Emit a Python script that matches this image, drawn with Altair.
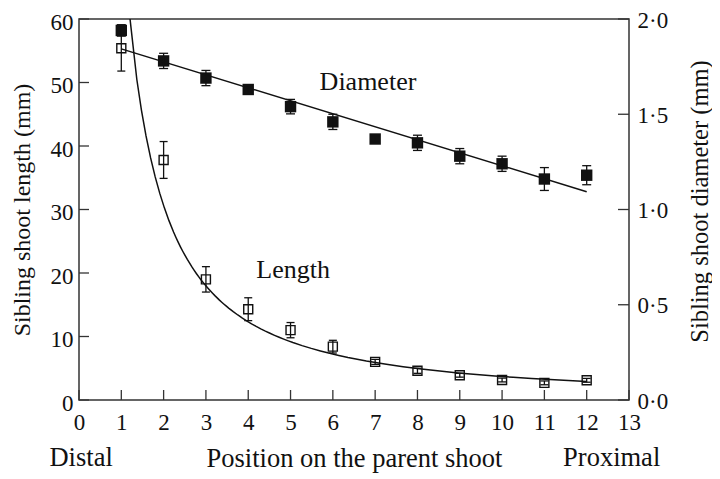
import altair as alt
import pandas as pd

# ---- data ----
position = [1, 2, 3, 4, 5, 6, 7, 8, 9, 10, 11, 12]
length_mean = [55.4, 37.8, 19.0, 14.3, 11.0, 8.4, 6.0, 4.6, 3.9, 3.15, 2.7, 3.1]
length_err = [3.6, 2.9, 2.0, 1.8, 1.2, 1.0, 0.4, 0.4, 0.3, 0.3, 0.3, 0.3]
diam_mean = [1.94, 1.78, 1.69, 1.63, 1.54, 1.46, 1.37, 1.35, 1.28, 1.24, 1.16, 1.18]
diam_err = [0.03, 0.04, 0.04, 0.02, 0.038, 0.04, 0.015, 0.04, 0.04, 0.04, 0.06, 0.05]
x_ticks = list(range(0, 14))
len_ticks = [0, 10, 20, 30, 40, 50, 60]
diam_ticks = [0.0, 0.5, 1.0, 1.5, 2.0]

W, H = 550, 381
FONT = "Liberation Serif"
INK = "#111111"
FRAME = "#333333"

len_df = pd.DataFrame({
    "pos": position,
    "len": length_mean,
    "lo": [m - e for m, e in zip(length_mean, length_err)],
    "hi": [m + e for m, e in zip(length_mean, length_err)],
})
diam_df = pd.DataFrame({
    "pos": position,
    "diam": diam_mean,
    "lo": [m - e for m, e in zip(diam_mean, diam_err)],
    "hi": [m + e for m, e in zip(diam_mean, diam_err)],
})
xt_df = pd.DataFrame({"t": x_ticks})
lt_df = pd.DataFrame({"v": len_ticks})
dt_df = pd.DataFrame({"v": diam_ticks})

xscale = alt.Scale(domain=[0, 13], nice=False, zero=False)
lscale = alt.Scale(domain=[0, 60], nice=False)
dscale = alt.Scale(domain=[0, 2], nice=False)

x_axis = alt.Axis(
    orient="bottom", values=x_ticks, format="d", ticks=False, domain=False, grid=False,
    labelFlush=False, labelOverlap=False, labelPadding=11,
    labelFont=FONT, labelFontSize=23, labelColor=INK,
    title="Position on the parent shoot", titleFont=FONT, titleFontSize=26.5,
    titleFontWeight="normal", titleColor=INK, titleX=W / 2, titleY=66,
    titleAlign="center", titleBaseline="alphabetic",
)
left_axis = alt.Axis(
    orient="left", values=len_ticks, format="d", ticks=False, domain=False,
    grid=False, labelPadding=6, labelOffset=3,
    labelFont=FONT, labelFontSize=23, labelColor=INK,
    title="Sibling shoot length (mm)", titleFont=FONT, titleFontSize=24,
    titleFontWeight="normal", titleColor=INK, titleAngle=270,
    titleX=-50, titleY=H / 2, titleAlign="center", titleBaseline="alphabetic",
)
right_axis = alt.Axis(
    orient="right", values=diam_ticks,
    labelExpr="replace(format(datum.value, '.1f'), '.', '\u00b7')",
    ticks=False, domain=False, grid=False, labelPadding=8, labelOffset=1,
    labelFont=FONT, labelFontSize=23, labelColor=INK,
    title="Sibling shoot diameter (mm)", titleFont=FONT, titleFontSize=24.5,
    titleFontWeight="normal", titleColor=INK, titleAngle=270,
    titleX=78, titleY=182, titleAlign="center", titleBaseline="alphabetic",
)


def X(f):
    return alt.X(f, scale=xscale, axis=x_axis)


# ---------- diameter (right axis) ----------
db = alt.Chart(diam_df)
d_bar = db.mark_rule(color=INK, strokeWidth=1.3).encode(
    x=X("pos:Q"), y=alt.Y("lo:Q", scale=dscale, axis=None), y2="hi:Q")
d_cap_lo = db.mark_tick(orient="horizontal", size=9, thickness=1.3, color=INK, opacity=1).encode(
    x=X("pos:Q"), y=alt.Y("lo:Q", scale=dscale, axis=None))
d_cap_hi = db.mark_tick(orient="horizontal", size=9, thickness=1.3, color=INK, opacity=1).encode(
    x=X("pos:Q"), y=alt.Y("hi:Q", scale=dscale, axis=None))
d_fit = db.transform_regression("pos", "diam", method="linear").mark_line(
    color=INK, strokeWidth=1.5).encode(x=X("pos:Q"), y=alt.Y("diam:Q", scale=dscale, axis=None))
d_pts = db.mark_square(size=130, color=INK, opacity=1).encode(
    x=X("pos:Q"), y=alt.Y("diam:Q", scale=dscale, axis=right_axis))
d_ticks = alt.Chart(dt_df).mark_rule(color=FRAME, strokeWidth=1.3).encode(
    y=alt.Y("v:Q", scale=dscale, axis=None), x=alt.value(W - 11), x2=alt.value(W))

# ---------- length (left axis) ----------
lb = alt.Chart(len_df)
l_bar = lb.mark_rule(color=INK, strokeWidth=1.3).encode(
    x=X("pos:Q"), y=alt.Y("lo:Q", scale=lscale, axis=None), y2="hi:Q")
l_cap_lo = lb.mark_tick(orient="horizontal", size=8, thickness=1.3, color=INK, opacity=1).encode(
    x=X("pos:Q"), y=alt.Y("lo:Q", scale=lscale, axis=None))
l_cap_hi = lb.mark_tick(orient="horizontal", size=8, thickness=1.3, color=INK, opacity=1).encode(
    x=X("pos:Q"), y=alt.Y("hi:Q", scale=lscale, axis=None))
l_fit = lb.transform_regression("pos", "len", method="pow", extent=[1.15, 12]).mark_line(
    color=INK, strokeWidth=1.5, clip=True).encode(
    x=X("pos:Q"), y=alt.Y("len:Q", scale=lscale, axis=None))
l_pts = lb.mark_square(size=81, fill="white", stroke=INK, strokeWidth=1.4, opacity=1).encode(
    x=X("pos:Q"), y=alt.Y("len:Q", scale=lscale, axis=left_axis))
l_ticks = alt.Chart(lt_df).mark_rule(color=FRAME, strokeWidth=1.3).encode(
    y=alt.Y("v:Q", scale=lscale, axis=None), x=alt.value(0), x2=alt.value(10))
x_tick_marks = alt.Chart(xt_df).mark_rule(color=FRAME, strokeWidth=1.3).encode(
    x=X("t:Q"), y=alt.value(H), y2=alt.value(H - 10))

ann = alt.Chart(pd.DataFrame({
    "x": [6.83, 5.06], "y": [48.8, 19.2], "label": ["Diameter", "Length"]
})).mark_text(font=FONT, fontSize=26, color=INK, align="center", baseline="alphabetic").encode(
    x=X("x:Q"), y=alt.Y("y:Q", scale=lscale, axis=None), text="label:N")

ends = alt.Chart(pd.DataFrame({
    "x": [0.05, 12.59], "label": ["Distal", "Proximal"]
})).mark_text(font=FONT, fontSize=26.5, color=INK, align="center", baseline="alphabetic").encode(
    x=X("x:Q"), y=alt.value(447), text="label:N")

chart = alt.layer(
    l_pts, d_pts,
    d_bar, d_cap_lo, d_cap_hi, d_fit, d_ticks,
    l_bar, l_cap_lo, l_cap_hi, l_fit, l_ticks, x_tick_marks, ann, ends,
).resolve_scale(y="independent").properties(
    width=W, height=H,
    padding={"left": 71, "top": 11, "right": 83, "bottom": 73},
    autosize=alt.AutoSizeParams(type="none"),
    background="white",
).configure_view(stroke=FRAME, strokeWidth=1.5)

chart.save("out.html", embed_options={"renderer": "svg", "actions": False})
